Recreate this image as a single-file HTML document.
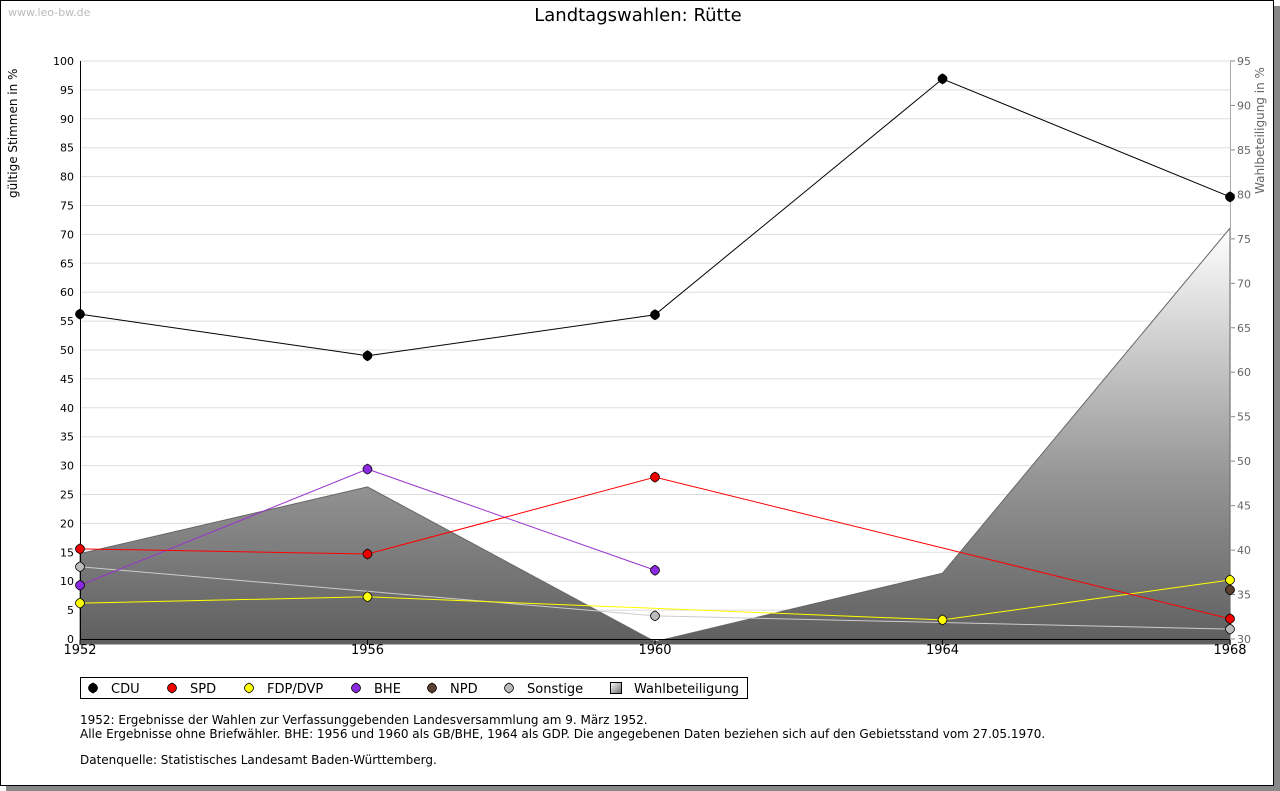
<!DOCTYPE html>
<html><head><meta charset="utf-8"><style>
body{margin:0;background:#fff;font-family:"DejaVu Sans","Liberation Sans",sans-serif}
#frame{position:absolute;left:0;top:0;width:1272px;height:784px;border:1px solid #000;box-shadow:6px 6px 0 #888;background:#fff}
svg text{font-family:"DejaVu Sans","Liberation Sans",sans-serif}
</style></head><body>
<div id="frame"></div>
<svg id="c" width="1280" height="791" style="position:absolute;left:0;top:0"></svg>
<script>
const years=[1952,1956,1960,1964,1968];
const cdu=[56.2,49.0,56.1,96.9,76.5];
const spd=[15.6,14.7,28.0,null,3.5];
const fdp=[6.2,7.3,null,3.3,10.2];
const bhe=[9.3,29.4,11.9,null,null];
const npd=[null,null,null,null,8.5];
const sonst=[12.5,null,4.0,null,1.7];
const wahl=[39.6,47.1,29.7,37.4,76.2];
const leftTicks=[0,5,10,15,20,25,30,35,40,45,50,55,60,65,70,75,80,85,90,95,100];
const rightTicks=[30,35,40,45,50,55,60,65,70,75,80,85,90,95];
const NS='http://www.w3.org/2000/svg';
const svg=document.getElementById('c');
const X=y=>80+(y-1952)/16*1150;
const Y=v=>639-v*5.78;
const YR=v=>639-(v-30)*578/65;
function mk(t,a,p){const e=document.createElementNS(NS,t);for(const k in a)e.setAttribute(k,a[k]);(p||svg).appendChild(e);return e;}
function dia(x,y){return `M${x} ${y-5}Q${x+4.5} ${y-3} ${x+4.5} ${y}Q${x+4.5} ${y+3} ${x} ${y+5}Q${x-4.5} ${y+3} ${x-4.5} ${y}Q${x-4.5} ${y-3} ${x} ${y-5}Z`;}
const defs=mk('defs',{});
const g=mk('linearGradient',{id:'wg',x1:0,y1:228,x2:0,y2:645,gradientUnits:'userSpaceOnUse'},defs);
mk('stop',{offset:0,'stop-color':'#ffffff'},g);mk('stop',{offset:0.6,'stop-color':'#959595'},g);mk('stop',{offset:1,'stop-color':'#5e5e5e'},g);
const lg=mk('linearGradient',{id:'lg',x1:0,y1:0,x2:1,y2:1},defs);
mk('stop',{offset:0,'stop-color':'#fff'},lg);mk('stop',{offset:1,'stop-color':'#666'},lg);
let t=mk('text',{x:638,y:21,'text-anchor':'middle','font-size':18});t.textContent='Landtagswahlen: Rütte';

t=mk('text',{x:8,y:16,'font-size':11,fill:'#bbb'});t.textContent='www.leo-bw.de';

leftTicks.forEach(v=>{if(v>0){const l=mk('line',{x1:80,x2:1230,y1:Y(v),y2:Y(v),stroke:'#ddd'});}
 const tx=mk('text',{x:74,y:Y(v)+4,'text-anchor':'end','font-size':11});tx.textContent=v;
 });
rightTicks.forEach(v=>{mk('line',{x1:1230,x2:1235,y1:YR(v),y2:YR(v),stroke:'#888'});
 const tx=mk('text',{x:1237,y:YR(v)+4,'font-size':11,fill:'#666'});tx.textContent=v;
 });
let d='M'+X(years[0])+' 644';years.forEach((y,i)=>d+=' L'+X(y)+' '+YR(wahl[i]));d+=' L'+X(years[4])+' 644Z';
const ar=mk('path',{d,fill:'url(#wg)',stroke:'#666','stroke-width':1});

mk('line',{x1:80,x2:1230,y1:639.5,y2:639.5,stroke:'#000'});
mk('line',{x1:80.5,x2:80.5,y1:61,y2:640,stroke:'#000'});
mk('line',{x1:1230.5,x2:1230.5,y1:61,y2:645,stroke:'#aaa'});
years.forEach(y=>{mk('line',{x1:X(y),x2:X(y),y1:640,y2:645,stroke:'#000'});
 const tx=mk('text',{x:X(y),y:654,'text-anchor':'middle','font-size':13});tx.textContent=y;
 });
t=mk('text',{transform:'translate(17,198) rotate(-90)','font-size':12});t.textContent='gültige Stimmen in %';

t=mk('text',{transform:'translate(1264,194) rotate(-90)','font-size':12,fill:'#666'});t.textContent='Wahlbeteiligung in %';

const series=[['cdu',cdu,'#000','#000'],['sonstige',sonst,'#ccc','#bbb'],['fdp',fdp,'#ff0','#ff0'],['bhe',bhe,'#9933cc','#8a2be2'],['spd',spd,'#f00','#e00'],['npd',npd,'#543','#5a4030']];
series.forEach(([n,vals,lc,mc])=>{
 const pts=[];vals.forEach((v,i)=>{if(v!==null)pts.push([X(years[i]),Y(v)]);});
 if(pts.length>1){const pl=mk('polyline',{points:pts.map(p=>p.join(',')).join(' '),fill:'none',stroke:lc,'stroke-width':1});
  }
 pts.forEach(p=>{const m=mk('path',{d:dia(p[0],p[1]),fill:mc,stroke:'#000','stroke-width':0.8});
  });
});
const lgd=mk('g',{});
mk('rect',{x:80.5,y:677.5,width:667,height:21,fill:'#fff',stroke:'#000'},lgd);
const items=[['CDU','#000',93],['SPD','#e00',172],['FDP/DVP','#ff0',249],['BHE','#8a2be2',356],['NPD','#5a4030',432],['Sonstige','#bbb',509],['Wahlbeteiligung',null,616]];
items.forEach(([l,c,x])=>{const gi=mk('g',{},lgd);
 if(c)mk('path',{d:dia(x,688),fill:c,stroke:'#000','stroke-width':0.8},gi);
 else mk('rect',{x:x-5.5,y:682.5,width:11,height:11,fill:'url(#lg)',stroke:'#000'},gi);
 const tx=mk('text',{x:x+18,y:693,'font-size':13},gi);tx.textContent=l;});
const notes=[['1952: Ergebnisse der Wahlen zur Verfassunggebenden Landesversammlung am 9. März 1952.',724],['Alle Ergebnisse ohne Briefwähler. BHE: 1956 und 1960 als GB/BHE, 1964 als GDP. Die angegebenen Daten beziehen sich auf den Gebietsstand vom 27.05.1970.',738],['Datenquelle: Statistisches Landesamt Baden-Württemberg.',764]];
notes.forEach(([s,y])=>{const tx=mk('text',{x:80,y,'font-size':12});tx.textContent=s;});
</script>
</body></html>
